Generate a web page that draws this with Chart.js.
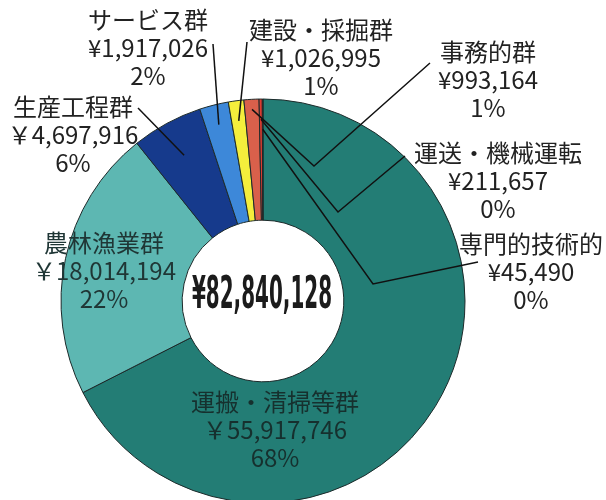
<!DOCTYPE html>
<html lang="ja">
<head>
<meta charset="utf-8">
<script src="https://cdn.jsdelivr.net/npm/chart.js@4.4.1/dist/chart.umd.min.js"></script>
<style>
  html, body { margin: 0; padding: 0; background: #fff; }
  #wrap { position: relative; width: 606px; height: 500px; }
</style>
</head>
<body>
<div id="wrap"><canvas id="chart" width="606" height="500"></canvas></div>
<script>
// ── Data ──────────────────────────────────────────────────────────────────
const categories = ['運搬・清掃等群', '農林漁業群', '生産工程群', 'サービス群', '建設・採掘群', '事務的群', '運送・機械運転', '専門的技術的'];
const amounts = [55917746, 18014194, 4697916, 1917026, 1026995, 993164, 211657, 45490];
const percentLabels = ['68%', '22%', '6%', '2%', '1%', '1%', '0%', '0%'];
const totalAmount = 82840128;

const sliceColors = ['#237d75', '#5db7b2', '#163a8c', '#3d88d9', '#f4ee3c', '#d9604b', '#dc3b30', '#e8262b'];

// Label placement: centre of first text line, yen glyph, leader points (label side → elbow),
// and where the leader ends inside the slice (fraction of the outer radius).
const labelLayout = [
  { x: 275, y: 402, yen: '￥', color: '#16302e' },
  { x: 104, y: 243, yen: '￥', color: '#1f3635' },
  { x: 73, y: 107, yen: '￥', leader: [[138, 108]], r: 0.82 },
  { x: 148, y: 20, yen: '¥', leader: [[213, 44]], r: 0.9 },
  { x: 321, y: 30, yen: '¥', leader: [[247, 42]], r: 0.9 },
  { x: 488, y: 52, yen: '¥', leader: [[430, 63], [314, 166]], r: 0.95 },
  { x: 498, y: 153, yen: '¥', leader: [[405, 156], [338, 212]], r: 0.9 },
  { x: 531, y: 244, yen: '¥', leader: [[478, 262], [373, 284]], r: 0.85 },
];

const LINE_H = 28;

const labelsPlugin = {
  id: 'sliceLabels',
  afterDatasetsDraw(chart) {
    const { ctx } = chart;
    const arcs = chart.getDatasetMeta(0).data;

    // leader lines
    ctx.save();
    ctx.strokeStyle = '#111';
    ctx.lineWidth = 1.5;
    labelLayout.forEach((lay, i) => {
      if (!lay.leader) return;
      const a = arcs[i].getProps(['x', 'y', 'startAngle', 'endAngle', 'outerRadius'], true);
      const mid = (a.startAngle + a.endAngle) / 2;
      const px = a.x + Math.cos(mid) * a.outerRadius * lay.r;
      const py = a.y + Math.sin(mid) * a.outerRadius * lay.r;
      ctx.beginPath();
      ctx.moveTo(lay.leader[0][0], lay.leader[0][1]);
      lay.leader.slice(1).forEach((p) => ctx.lineTo(p[0], p[1]));
      ctx.lineTo(px, py);
      ctx.stroke();
    });
    ctx.restore();

    // category / amount / share text
    ctx.save();
    ctx.textAlign = 'center';
    ctx.textBaseline = 'middle';
    ctx.font = '24px "Noto Sans CJK JP"';
    labelLayout.forEach((lay, i) => {
      ctx.fillStyle = lay.color || '#222';
      ctx.fillText(categories[i], lay.x, lay.y);
      ctx.fillText(lay.yen + amounts[i].toLocaleString('en-US'), lay.x, lay.y + LINE_H);
      ctx.fillText(percentLabels[i], lay.x, lay.y + LINE_H * 2);
    });
    ctx.restore();

    // total in the hole, squeezed to the narrow bold face of the original
    const c = arcs[0].getProps(['x', 'y'], true);
    const txt = '¥' + totalAmount.toLocaleString('en-US');
    ctx.save();
    ctx.font = 'bold 44px "DejaVu Sans Condensed"';
    ctx.textAlign = 'center';
    ctx.textBaseline = 'middle';
    ctx.fillStyle = '#1b1b1b';
    const w = ctx.measureText(txt).width;
    ctx.translate(c.x - 1, c.y - 4);
    ctx.scale(140 / w, 1);
    ctx.fillText(txt, 0, 0);
    ctx.restore();
  },
};

new Chart(document.getElementById('chart').getContext('2d'), {
  type: 'doughnut',
  data: {
    labels: categories,
    datasets: [{
      data: amounts,
      backgroundColor: sliceColors,
      borderColor: '#1c2a2a',
      borderWidth: 1,
      radius: 202,
      cutout: '40%',
    }],
  },
  options: {
    responsive: false,
    animation: false,
    layout: { padding: { left: 0, right: 80, top: 102, bottom: 0 } },
    plugins: {
      legend: { display: false },
      tooltip: { enabled: false },
    },
  },
  plugins: [labelsPlugin],
});
</script>
</body>
</html>
